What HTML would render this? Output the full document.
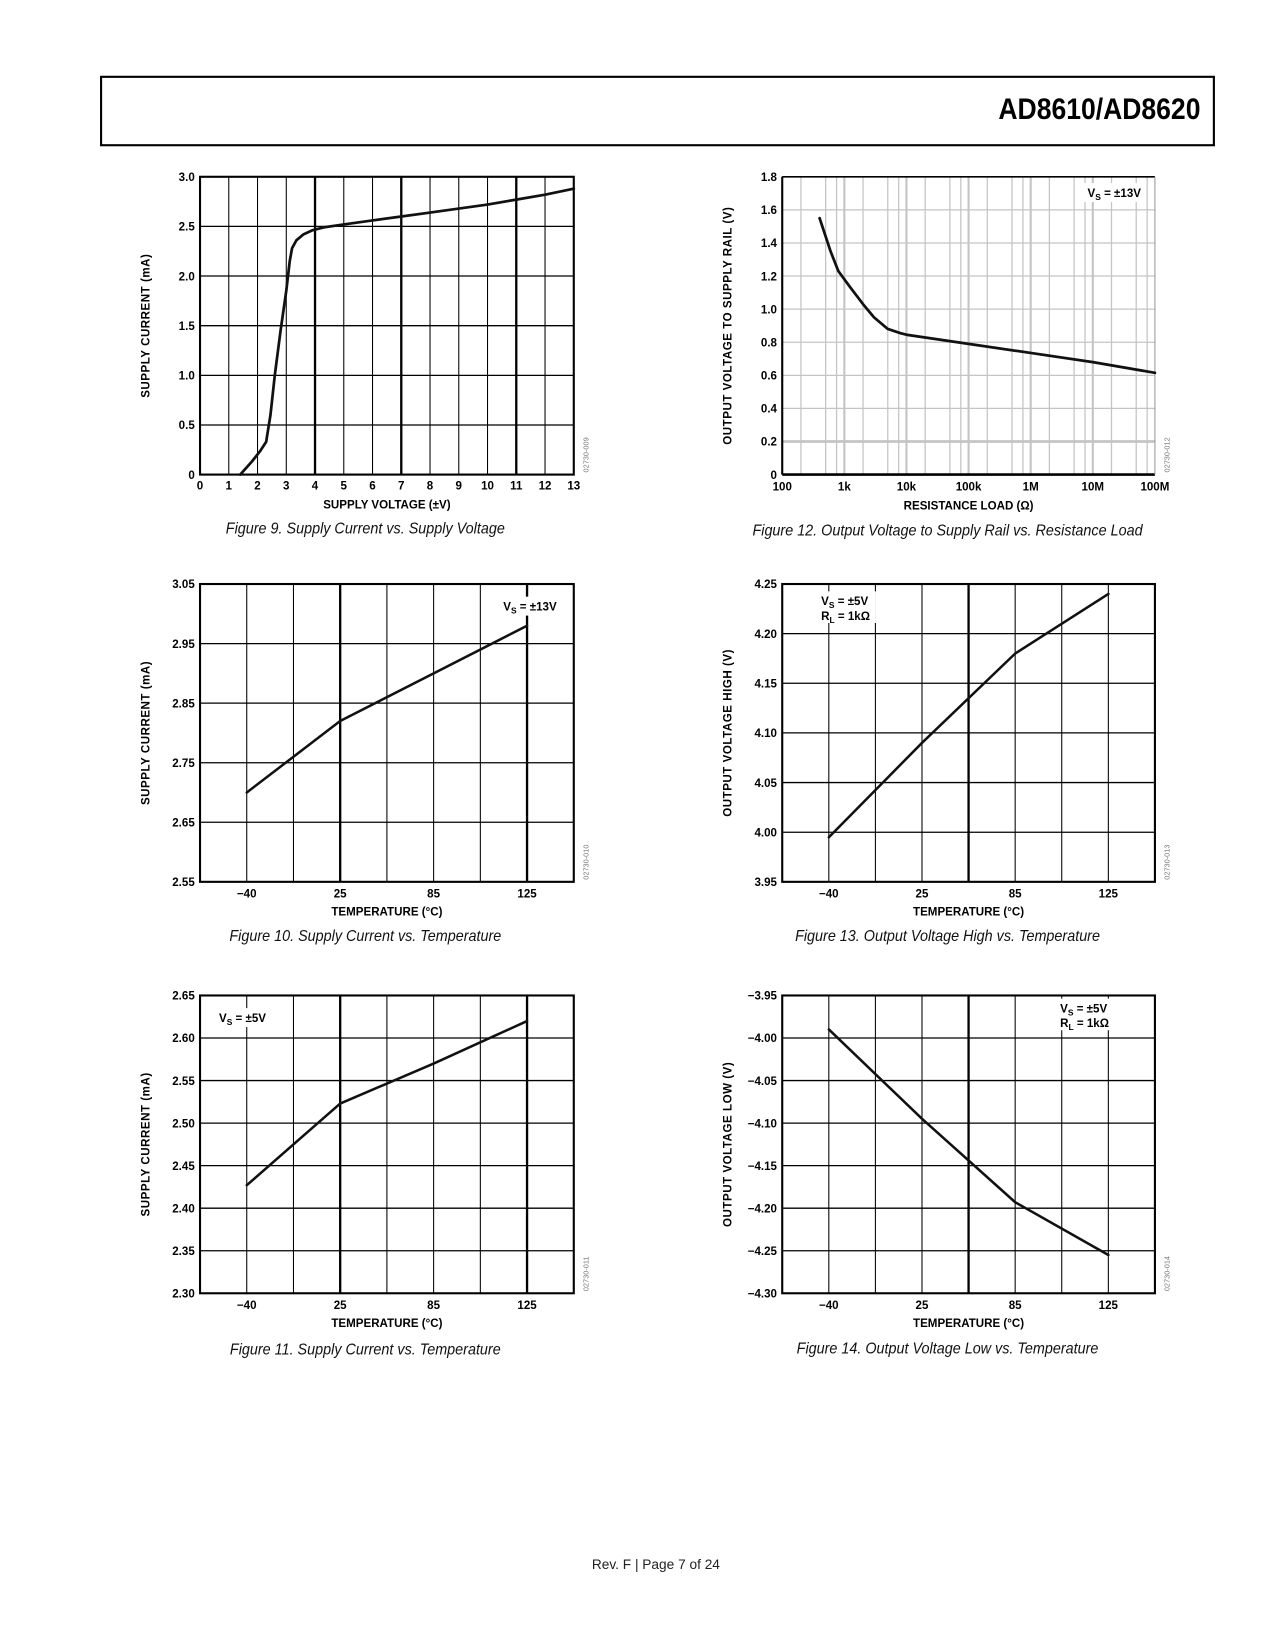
<!DOCTYPE html>
<html><head><meta charset="utf-8">
<style>
html,body{margin:0;padding:0;background:#fff;}
body{width:1275px;height:1650px;overflow:hidden;position:relative;}
#page{position:absolute;left:0;top:0;width:1211px;height:1568px;transform-origin:0 0;transform:scale(1.0528,1.0523);font-family:"Liberation Sans",Arial,sans-serif;}
.hdr{position:absolute;left:95px;top:72px;width:1055px;height:63px;border:2px solid #000;}
.title{position:absolute;right:12px;top:14px;font-weight:bold;font-size:28px;letter-spacing:0;transform:scaleX(0.9);transform-origin:right center;}
.cap{position:absolute;font-family:"Liberation Sans Narrow","Liberation Sans",sans-serif;font-style:italic;font-size:15px;transform:translateX(-50%) scaleX(0.91);white-space:nowrap;color:#111;}
.footer{position:absolute;left:623px;top:1479px;transform:translateX(-50%);font-size:13px;color:#222;white-space:nowrap;}
svg text{font-family:"Liberation Sans",Arial,sans-serif;}
</style></head>
<body>
<div id="page">
<div class="hdr"><div class="title">AD8610/AD8620</div></div>
<svg id="svg" width="1211" height="1568" style="position:absolute;left:0;top:0"></svg>
<div class="cap" style="left:347px;top:494px">Figure 9. Supply Current vs. Supply Voltage</div>
<div class="cap" style="left:900px;top:496px">Figure 12. Output Voltage to Supply Rail vs. Resistance Load</div>
<div class="cap" style="left:347px;top:881px">Figure 10. Supply Current vs. Temperature</div>
<div class="cap" style="left:900px;top:881px">Figure 13. Output Voltage High vs. Temperature</div>
<div class="cap" style="left:347px;top:1274px">Figure 11. Supply Current vs. Temperature</div>
<div class="cap" style="left:900px;top:1273px">Figure 14. Output Voltage Low vs. Temperature</div>
<div class="footer">Rev. F | Page 7 of 24</div>
</div>
<script>
// Figure 9
const f9X=[1.4,1.8,2.1,2.3,2.45,2.6,2.8,3.0,3.12,3.2,3.35,3.6,3.9,4.3,5,6,7,8,9,10,11,12,13];
const f9Y=[0,0.13,0.24,0.33,0.6,1.0,1.45,1.85,2.15,2.28,2.36,2.42,2.46,2.49,2.52,2.56,2.6,2.64,2.68,2.72,2.77,2.82,2.88];
const f9XTicks=[0,1,2,3,4,5,6,7,8,9,10,11,12,13];
const f9YTicks=["0","0.5","1.0","1.5","2.0","2.5","3.0"];
// Figure 12
const f12X=[400,500,600,800,1200,2000,3000,5000,8000,10000,100000,1000000,10000000,100000000];
const f12Y=[1.55,1.44,1.35,1.23,1.14,1.03,0.95,0.88,0.855,0.845,0.79,0.735,0.68,0.615];
const f12XTicks=["100","1k","10k","100k","1M","10M","100M"];
const f12YTicks=["0","0.2","0.4","0.6","0.8","1.0","1.2","1.4","1.6","1.8"];
// temperature charts
const tempCats=["\u221240","25","85","125"];
const f10Y=[2.70,2.82,2.90,2.98];
const f10YTicks=["2.55","2.65","2.75","2.85","2.95","3.05"];
const f11Y=[2.427,2.523,2.57,2.62];
const f11YTicks=["2.30","2.35","2.40","2.45","2.50","2.55","2.60","2.65"];
const f13Y=[3.995,4.09,4.18,4.24];
const f13YTicks=["3.95","4.00","4.05","4.10","4.15","4.20","4.25"];
const f14Y=[-3.99,-4.095,-4.193,-4.255];
const f14YTicks=["\u22124.30","\u22124.25","\u22124.20","\u22124.15","\u22124.10","\u22124.05","\u22124.00","\u22123.95"];

const NS="http://www.w3.org/2000/svg";
const svg=document.getElementById('svg');
function el(tag,attrs,parent){const e=document.createElementNS(NS,tag);for(const k in attrs)e.setAttribute(k,attrs[k]);(parent||svg).appendChild(e);return e;}
function line(x1,y1,x2,y2,w,c,g){return el('line',{x1,y1,x2,y2,stroke:c||'#000','stroke-width':w},g);}
function txt(x,y,s,anchor,size,g,extra){const t=el('text',Object.assign({x,y,'text-anchor':anchor,'font-size':size,'font-weight':'bold',fill:'#000'},extra||{}),g);t.textContent=s;return t;}

function frame(L,T,R,B,g){el('rect',{x:L,y:T,width:R-L,height:B-T,fill:'none',stroke:'#000','stroke-width':2},g);}
function yaxis(L,T,B,ticks,title,g){
  const n=ticks.length-1;
  ticks.forEach((s,i)=>{const y=B-(B-T)*i/n;const t=txt(L-5,y+4,s,'end',11,g);
    
    });
  const t=txt(0,0,title,'middle',11,g,{transform:`translate(${L-48},${(T+B)/2}) rotate(-90)`,'letter-spacing':'0.5'});
  
  
}
function code(R,B,s,g){const t=el('text',{x:0,y:0,'font-size':7,fill:'#777','text-anchor':'start',transform:`translate(${R+14},${B-2}) rotate(-90)`},g);t.textContent=s;
  
  }
function path(pts,g,w){const d=pts.map((p,i)=>(i?'L':'M')+p[0].toFixed(1)+','+p[1].toFixed(1)).join('');return el('path',{d,fill:'none',stroke:'#111','stroke-width':w||2.6,'stroke-linejoin':'round','stroke-linecap':'round'},g);}
function label(x,y,lines,g,bw,bh){el('rect',{x:x-4,y:y-13,width:bw,height:bh,fill:'#fff'},g);
  lines.forEach((l,i)=>{const t=el('text',{x,y:y+i*14,'font-size':11,'font-weight':'bold'},g);
    t.innerHTML=`${l[0]}<tspan font-size="8" dy="3">${l[1]}</tspan><tspan dy="-3"> = ${l[2]}</tspan>`;});}

// ---- Figure 9
(function(){
  const g=el('g',{});
  const L=190,T=168,R=545,B=451;
  const xs=v=>L+(R-L)*v/13, ys=v=>B-(B-T)*v/3;
  for(let i=1;i<13;i++){line(xs(i),T,xs(i),B,(i==4||i==7||i==11)?2.2:1,'#000',g);}
  for(let i=1;i<6;i++){line(L,ys(i*0.5),R,ys(i*0.5),1.2,'#000',g);}
  frame(L,T,R,B,g);
  f9XTicks.forEach(v=>{const t=txt(xs(v),465,String(v),'middle',11,g);
    
    });
  yaxis(L,T,B,f9YTicks,'SUPPLY CURRENT (mA)',g);
  const xt=txt((L+R)/2,483,'SUPPLY VOLTAGE (\u00B1V)','middle',11,g);
  
  
  const p=path(f9X.map((x,i)=>[xs(x),ys(f9Y[i])]),g);
  
  
  code(R,B,'02730-009',g);
})();

// ---- Figure 12
(function(){
  const g=el('g',{});
  const L=743,T=168,R=1097,B=451;
  const xs=v=>L+(R-L)*(Math.log10(v)-2)/6, ys=v=>B-(B-T)*v/1.8;
  for(let d=2;d<8;d++){[2,5,7.5].forEach(m=>{const x=xs(m*Math.pow(10,d));line(x,T,x,B,1.2,'#c4c4c4',g);});
    if(d>2)line(xs(Math.pow(10,d)),T,xs(Math.pow(10,d)),B,2,'#c4c4c4',g);}
  for(let i=1;i<9;i++){line(L,ys(i*0.2),R,ys(i*0.2),i==1?2.5:1.2,'#c4c4c4',g);}
  line(L,T,L,B,2,'#000',g);line(L,B,R,B,2.5,'#000',g);line(L,T,R,T,1.5,'#000',g);line(R,T,R,B,1,'#999',g);
  f12XTicks.forEach((s,i)=>{const t=txt(L+(R-L)*i/6,466,s,'middle',11,g);
    
    });
  yaxis(L,T,B,f12YTicks,'OUTPUT VOLTAGE TO SUPPLY RAIL (V)',g);
  const xt=txt((L+R)/2,484,'RESISTANCE LOAD (\u03A9)','middle',11,g);
  
  
  const p=path(f12X.map((x,i)=>[xs(x),ys(f12Y[i])]),g);
  
  
  label(1033,187,[['V','S','\u00B113V']],g,60,18);
  code(R,B,'02730-012',g);
})();

// ---- temperature charts
function tempChart(name,L,T,R,B,yTicks,ymin,ymax,vals,title,thick,lbl,cd){
  const g=el('g',{});
  const w=(R-L)/8;const xs=i=>L+(2*i+1)*w, ys=v=>B-(B-T)*(v-ymin)/(ymax-ymin);
  for(let j=1;j<8;j++)line(L+j*w,T,L+j*w,B,j==thick||j==7&&thick==3?2.2:1,'#000',g);
  const n=yTicks.length-1;for(let i=1;i<n;i++)line(L,T+(B-T)*i/n,R,T+(B-T)*i/n,1.2,'#000',g);
  frame(L,T,R,B,g);
  tempCats.forEach((s,i)=>{const t=txt(xs(i),B+15,s,'middle',11,g);
    
    });
  yaxis(L,T,B,yTicks,title,g);
  const xt=txt((L+R)/2,B+32,'TEMPERATURE (\u00B0C)','middle',11,g);
  
  
  lbl(g);
  const p=path(vals.map((v,i)=>[xs(i),ys(v)]),g,2.4);
  
  
  code(R,B,cd,g);
}
tempChart('fig10-supply-current-vs-temp',190,555,545,838,f10YTicks,2.55,3.05,f10Y,'SUPPLY CURRENT (mA)',3,g=>label(478,580,[['V','S','\u00B113V']],g,60,18),'02730-010');
tempChart('fig13-output-high-vs-temp',743,555,1097,838,f13YTicks,3.95,4.25,f13Y,'OUTPUT VOLTAGE HIGH (V)',4,g=>label(780,575,[['V','S','\u00B15V'],['R','L','1k\u03A9']],g,56,30),'02730-013');
tempChart('fig11-supply-current-vs-temp',190,946,545,1229,f11YTicks,2.30,2.65,f11Y,'SUPPLY CURRENT (mA)',3,g=>label(208,971,[['V','S','\u00B15V']],g,56,18),'02730-011');
tempChart('fig14-output-low-vs-temp',743,946,1097,1229,f14YTicks,-4.30,-3.95,f14Y,'OUTPUT VOLTAGE LOW (V)',4,g=>label(1007,962,[['V','S','\u00B15V'],['R','L','1k\u03A9']],g,56,30),'02730-014');
</script>
</body></html>
